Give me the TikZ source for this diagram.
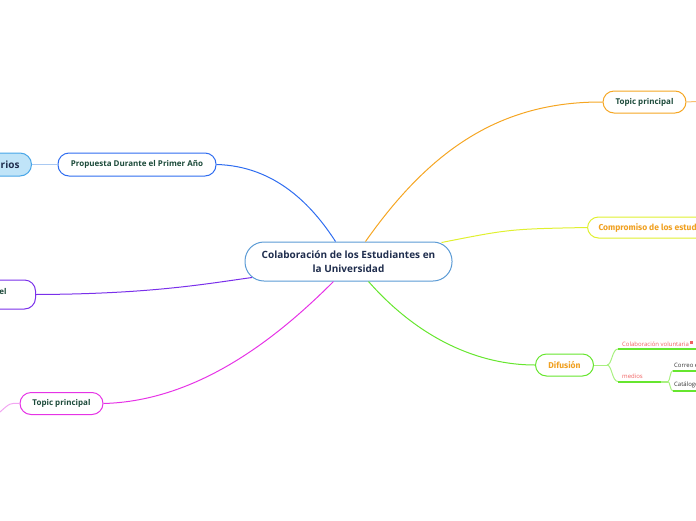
\documentclass[tikz,border=0pt]{standalone}
\usepackage{fontspec}
\setmainfont{Open Sans}
\newfontfamily\dispfont{Fira Sans}
\definecolor{cborder}{HTML}{5B9BD5}
\definecolor{ctext}{HTML}{1F2D4D}
\definecolor{tgreen}{HTML}{1C4A3A}
\definecolor{mblue}{HTML}{2F6DF0}
\definecolor{lbfill}{HTML}{C0E4F8}
\definecolor{lbborder}{HTML}{48A6E8}
\definecolor{lbline}{HTML}{A9C9F2}
\definecolor{mpurple}{HTML}{7A30EA}
\definecolor{mpink}{HTML}{E633E6}
\definecolor{lpink}{HTML}{F2A6F2}
\definecolor{morange}{HTML}{F5A623}
\definecolor{lorange}{HTML}{F8C070}
\definecolor{myellow}{HTML}{E0F030}
\definecolor{dorange}{HTML}{F0A020}
\definecolor{mgreen}{HTML}{66E62E}
\definecolor{lgreen}{HTML}{A8F080}
\definecolor{tred}{HTML}{F06060}
\definecolor{tgray}{HTML}{333333}
\begin{document}
\begin{tikzpicture}[x=1pt,y=-1pt,
  topicbox/.style={draw, rounded corners=11pt, line width=1pt, fill=white, inner sep=0pt, minimum height=22pt, font=\fontsize{8}{10}\selectfont\bfseries, text=tgreen},
  conn/.style={line width=1pt},
  underl/.style={line width=2pt, mgreen},
  leaftext/.style={font=\fontsize{6}{7}\selectfont, inner sep=0pt, anchor=south west}
]
\useasboundingbox (0,0) rectangle (696,520);
% central
\node[draw=cborder, line width=1pt, rounded corners=19pt, fill=white, minimum width=207pt, minimum height=39pt, align=center, text=ctext, font=\fontsize{10}{14}\selectfont\bfseries, inner sep=0pt] (c) at (348.5,261.5) {Colaboración de los Estudiantes en\\la Universidad};
% left blue branch
\node[topicbox, draw=mblue, minimum width=158pt, minimum height=23pt] (prop) at (137,164.5) {Propuesta Durante el Primer Año};
\node[draw=lbborder, fill=lbfill, line width=1pt, rounded corners=11.5pt, minimum height=23pt, anchor=east, text width=60pt, align=right, inner xsep=12pt, inner ysep=0pt, text=ctext, font=\fontsize{10}{12}\selectfont\bfseries] (rios) at (32,164.5) {rios};
\draw[conn, lbline] (rios.east) -- (prop.west);
\draw[conn, mblue] (prop.east) .. controls (275,166) and (312,205) .. ([xshift=-13pt]c.north);
% purple branch
\node[topicbox, draw=mpurple, anchor=east, minimum height=29pt, text width=40pt, align=right, inner xsep=29pt] (el) at (36,294.5) {\raisebox{6pt}{el}};
\draw[conn, mpurple] (el.east) .. controls (150,294) and (205,284) .. ([xshift=7.5pt,yshift=4pt]c.south west);
% pink branch
\node[topicbox, draw=mpink, minimum width=83pt, minimum height=22pt] (tp1) at (61.5,403.5) {Topic principal};
\coordinate (tp1l) at (0,412);
\draw[conn, lpink] (tp1.west) .. controls (10,403) .. (tp1l);
\draw[conn, mpink] (tp1.east) .. controls (200,401) and (280,335) .. ([xshift=-15pt]c.south);
% orange branch
\node[topicbox, draw=morange, minimum width=83pt, minimum height=22pt] (tp2) at (644.5,102) {Topic principal};
\coordinate (tp2r) at (696,101.5);
\draw[conn, lorange] (tp2.east) -- (tp2r);
\draw[conn, morange] ([xshift=17pt]c.north) .. controls (430,150) and (500,101.5) .. (tp2.west);
% yellow branch
\node[topicbox, draw=myellow, anchor=west, minimum height=21pt, text=dorange, inner xsep=11pt, font=\dispfont\fontsize{8.5}{10}\selectfont\bfseries] (comp) at (587,227.5) {Compromiso de los estudiantes};
\draw[conn, myellow] ([xshift=-11pt,yshift=-1pt]c.north east) .. controls (510,229) .. (comp.west);
% green branch
\node[topicbox, draw=mgreen, minimum width=58pt, minimum height=22pt, text=dorange, font=\dispfont\fontsize{8.5}{10}\selectfont\bfseries] (dif) at (564.5,365) {Difusión};
\draw[conn, mgreen] ([xshift=20pt]c.south) .. controls (420,340) and (480,365) .. (dif.west);
% Difusion subtree
\coordinate (b0) at (607,365);
\coordinate (u1a) at (618,349);
\coordinate (u1b) at (696,349);
\coordinate (u2a) at (618,381.5);
\coordinate (u2b) at (661,381.5);
\coordinate (b1) at (668,381.5);
\coordinate (u3a) at (673,370.5);
\coordinate (u3b) at (696,370.5);
\coordinate (u4a) at (673,391);
\coordinate (u4b) at (696,391);
\draw[conn, lgreen] (dif.east) -- (b0);
\draw[conn, lgreen] (b0) .. controls (612,365) and (612,349) .. (u1a);
\draw[conn, lgreen] (b0) .. controls (612,365) and (612,381.5) .. (u2a);
\draw[underl] (u1a) -- (u1b);
\draw[underl] (u2a) -- (u2b);
\draw[line width=2pt, lgreen] (u2b) -- (b1);
\draw[conn, lgreen] (b1) .. controls (670,381.5) and (670,370.5) .. (u3a);
\draw[conn, lgreen] (b1) .. controls (670,381.5) and (670,391) .. (u4a);
\draw[underl] (u3a) -- (u3b);
\draw[underl] (u4a) -- (u4b);
\node[leaftext, text=tred] (colab) at (622,346.5) {Colaboración voluntaria};
\node[fill=tred, inner sep=0pt, minimum size=3pt, anchor=west] (icon) at ([xshift=1pt,yshift=1pt]colab.east) {};
\node[leaftext, text=tred] (med) at (622,379) {medios};
\node[leaftext, text=tgray] (correo) at (674,368) {Correo electrónico};
\node[leaftext, text=tgray] (catal) at (674,388.5) {Catálogo};
\end{tikzpicture}
\end{document}
